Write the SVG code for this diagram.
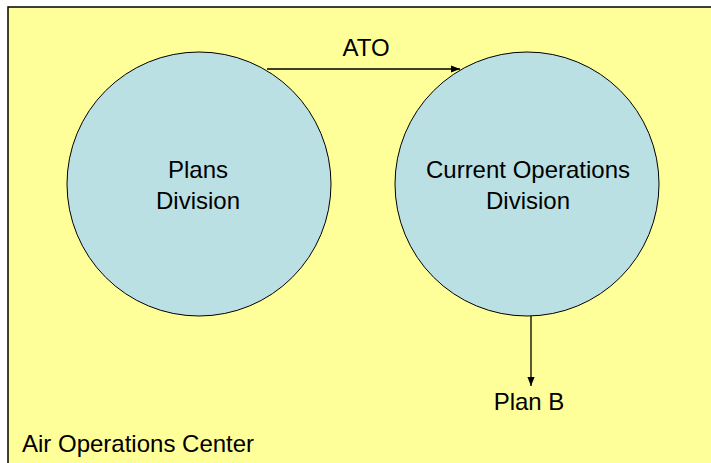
<svg xmlns="http://www.w3.org/2000/svg" width="711" height="463" viewBox="0 0 711 463">
<style>
text{font-family:"Liberation Sans",Arial,sans-serif;font-size:24px;fill:#000}
.node{fill:#BBE0E3;stroke:#000;stroke-width:1}
.edge{stroke:#000;stroke-width:1.3;fill:none}
</style>
<defs>
<marker id="arr" viewBox="0 0 10 10" refX="10" refY="5" markerWidth="9" markerHeight="9" markerUnits="userSpaceOnUse" orient="auto">
<path d="M0,1 L10,5 L0,9 Z" fill="#000"/>
</marker>
</defs>
<rect x="0" y="0" width="711" height="463" fill="#fff"/>
<rect id="aoc" x="8" y="7" width="720" height="480" fill="#FFFF99" stroke="#000" stroke-width="1.5"/>
<text x="22" y="452">Air Operations Center</text>
<g id="plans">
<circle class="node" cx="199" cy="184" r="132"/>
<text x="198" y="178" text-anchor="middle">Plans</text>
<text x="198" y="209" text-anchor="middle">Division</text>
</g>
<g id="currentops">
<circle class="node" cx="527" cy="184" r="132"/>
<text x="528" y="178" text-anchor="middle">Current Operations</text>
<text x="528" y="209" text-anchor="middle">Division</text>
</g>
<g id="connectors">
<line class="edge" x1="267" y1="69" x2="460" y2="69" marker-end="url(#arr)"/>
<line class="edge" x1="531" y1="316" x2="531" y2="386" marker-end="url(#arr)"/>
<text x="366" y="56" text-anchor="middle">ATO</text>
<text x="529" y="410" text-anchor="middle">Plan B</text>
</g>
</svg>
